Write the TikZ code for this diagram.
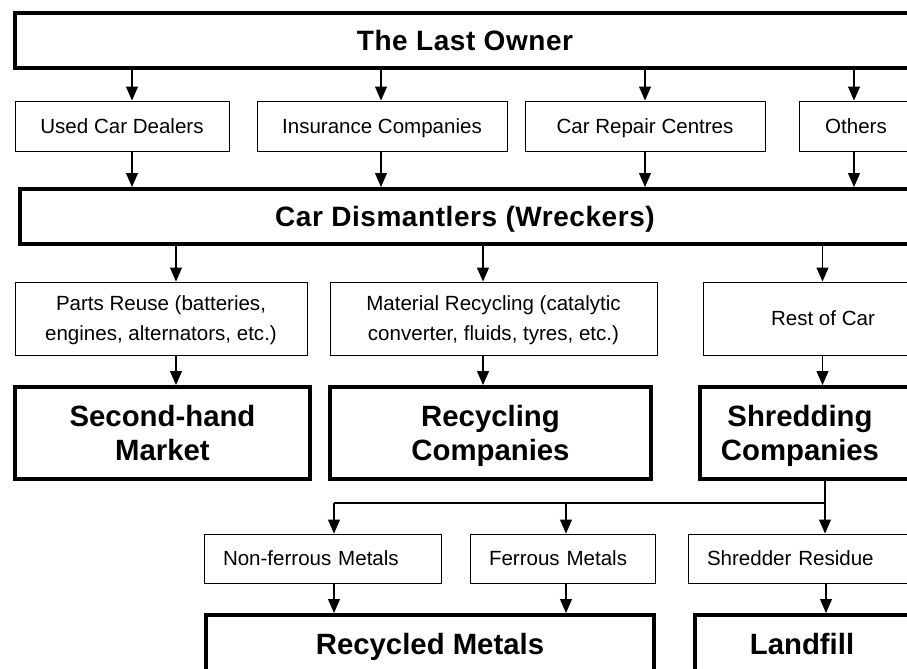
\documentclass[tikz,border=0pt]{standalone}
\usepackage{fontspec}
\setmainfont{Liberation Sans}
\usetikzlibrary{arrows.meta}
\tikzset{
  sz/.style 2 args={minimum width={#1*0.75pt}, minimum height={#2*0.75pt}},
  smallbox/.style={draw, line width=0.75pt, inner sep=0pt, align=center,
    text depth=0pt, font=\fontsize{15.4}{22.5}\selectfont},
  leftbox/.style={smallbox, align=left, inner xsep=14.25pt,
    text width={(#1-38)*0.75pt}, minimum width={#1*0.75pt}},
  bigbox/.style={draw, line width=3pt, inner sep=0pt, align=center,
    text depth=0pt, font=\bfseries\fontsize{22}{25.5}\selectfont},
  headbox/.style={draw, line width=3pt, inner sep=0pt, align=center,
    text depth=0pt,
    font=\bfseries\fontsize{21}{24}\selectfont\addfontfeatures{LetterSpace=2}},
  arr/.style={-{Triangle[width=9pt,length=10.5pt]}, line width=0.8pt},
  link/.style={line width=0.8pt}
}
\begin{document}
\begin{tikzpicture}[x=0.75pt, y=-0.75pt]
\useasboundingbox (0,0) rectangle (907,668);
\clip (0,0) rectangle (907,668);

% owner and intermediaries
\node[headbox, sz={900}{54.5}] (top) at (465,40.25) {The Last Owner};
\node[smallbox, sz={214}{50}] (ucd) at (122,126) {Used Car Dealers};
\node[smallbox, sz={250}{50}] (ins) at (382,126) {Insurance Companies};
\node[smallbox, sz={240}{50}] (crc) at (645,126) {Car Repair Centres};
\node[smallbox, sz={114}{50}] (oth) at (856,126) {Others};

% dismantlers
\node[headbox, sz={900}{55}] (dis) at (470,216.5) {Car Dismantlers (Wreckers)\hspace*{7.5pt}};

% dismantling outputs
\node[smallbox, sz={292}{73}] (parts) at (161,318.5) {Parts Reuse (batteries,\\engines, alternators, etc.)};
\node[smallbox, sz={327}{73}] (mat) at (493.5,318.5) {Material Recycling (catalytic\\converter, fluids, tyres, etc.)};
\node[smallbox, sz={240}{73}] (rest) at (823,318.5) {Rest of Car};

% destinations
\node[bigbox, sz={295}{92}] (shm) at (162.5,433) {Second-hand\\Market};
\node[bigbox, sz={321}{92}] (rec) at (490.5,433) {Recycling\\Companies};
\node[bigbox, sz={215}{92}] (shr) at (807.5,433) {Shredding\hspace*{11.25pt}\\Companies\hspace*{11.25pt}};

% shredder fractions
\node[leftbox=237, minimum height={49*0.75pt}] (nf) at (322.5,558.5) {Non-ferrous Metals};
\node[leftbox=185, minimum height={49*0.75pt}] (fe) at (562.5,558.5) {Ferrous Metals};
\node[leftbox=227, minimum height={49*0.75pt}] (sres) at (801.5,558.5) {Shredder Residue};

% final fates
\node[bigbox, sz={448}{58}] (rm) at (430,644) {Recycled Metals};
\node[bigbox, sz={222}{58}] (lf) at (806,644) {Landfill\hspace*{6pt}};

% arrow columns
\coordinate (a1) at (132,0);
\coordinate (a2) at (381,0);
\coordinate (a3) at (645,0);
\coordinate (a4) at (854,0);
\coordinate (b1) at (176,0);
\coordinate (b2) at (483,0);
\coordinate (b3) at (822.5,0);
\coordinate (br) at (825,503);
\coordinate (c1) at (334,0);
\coordinate (c2) at (566,0);
\coordinate (c3) at (826,0);

\draw[arr] (top.south -| a1) -- (ucd.north -| a1);
\draw[arr] (top.south -| a2) -- (ins.north -| a2);
\draw[arr] (top.south -| a3) -- (crc.north -| a3);
\draw[arr] (top.south -| a4) -- (oth.north -| a4);

\draw[arr] (ucd.south -| a1) -- (dis.north -| a1);
\draw[arr] (ins.south -| a2) -- (dis.north -| a2);
\draw[arr] (crc.south -| a3) -- (dis.north -| a3);
\draw[arr] (oth.south -| a4) -- (dis.north -| a4);

\draw[arr] (dis.south -| b1) -- (parts.north -| b1);
\draw[arr] (dis.south -| b2) -- (mat.north -| b2);
\draw[arr] (dis.south -| b3) -- (rest.north -| b3);

\draw[arr] (parts.south -| b1) -- (shm.north -| b1);
\draw[arr] (mat.south -| b2) -- (rec.north -| b2);
\draw[arr] (rest.south -| b3) -- (shr.north -| b3);

% shredder split
\draw[arr] (shr.south -| br) -- (sres.north -| br);
\draw[link] (br) -- (br -| c1);
\draw[arr] (br -| c1) -- (nf.north -| c1);
\draw[arr] (br -| c2) -- (fe.north -| c2);

\draw[arr] (nf.south -| c1) -- (rm.north -| c1);
\draw[arr] (fe.south -| c2) -- (rm.north -| c2);
\draw[arr] (sres.south -| c3) -- (lf.north -| c3);
\end{tikzpicture}
\end{document}
